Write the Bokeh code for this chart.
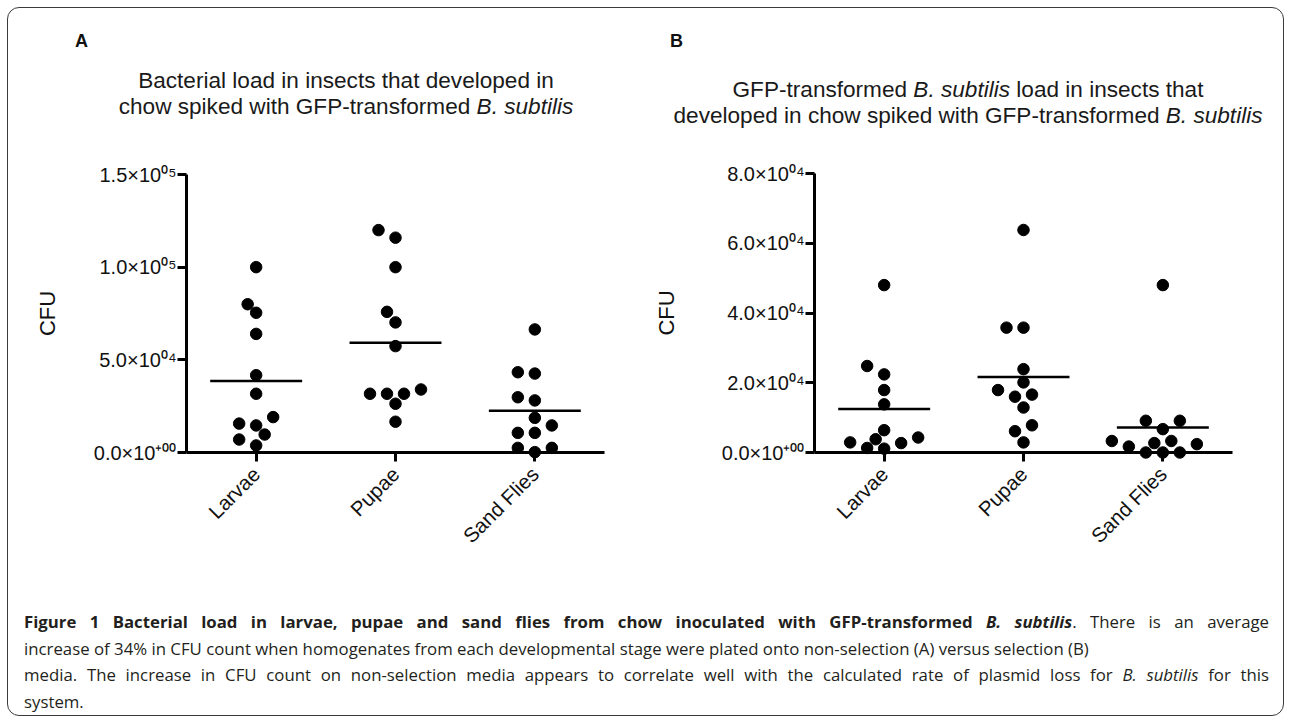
import math
import numpy as np
from bokeh.plotting import figure
from bokeh.models import Range1d, FixedTicker, Label, Div
from bokeh.layouts import column, row
from bokeh.embed import file_html
from bokeh.resources import INLINE

# ---------------- data ----------------
stages = ["Larvae", "Pupae", "Sand Flies"]

# Panel A: bacterial load (CFU), non-selection media
larvae_a = [100000, 80000, 75400, 64000, 41700, 31700, 19100, 15600, 14600, 9700, 7000, 3800]
pupae_a = [120000, 115900, 100000, 75900, 70200, 57400, 34000, 31700, 31700, 31700, 26300, 16600]
sandflies_a = [66400, 43300, 42600, 29800, 28100, 18700, 14600, 10600, 10600, 2500, 2500, 200]

# Panel B: GFP-transformed B. subtilis load (CFU), selection media
larvae_b = [48000, 24800, 22400, 17900, 13800, 6400, 4300, 3800, 2900, 2700, 1300, 1100]
pupae_b = [63800, 35800, 35800, 23900, 20100, 17900, 16600, 16000, 12900, 7800, 6100, 2900]
sandflies_b = [48000, 9100, 9100, 6700, 3300, 3300, 2700, 2400, 1700, 0, 0, 0]

yticks_a = [0, 50000, 100000, 150000]
ytick_labels_a = ["0.0\u00d710\u207a\u2070\u2070", "5.0\u00d710\u2070\u2074",
                  "1.0\u00d710\u2070\u2075", "1.5\u00d710\u2070\u2075"]
yticks_b = [0, 20000, 40000, 60000, 80000]
ytick_labels_b = ["0.0\u00d710\u207a\u2070\u2070", "2.0\u00d710\u2070\u2074",
                  "4.0\u00d710\u2070\u2074", "6.0\u00d710\u2070\u2074",
                  "8.0\u00d710\u2070\u2074"]

FONT = "Liberation Sans"


def swarm_offsets(vals, ymax, frame_h, unit_px, d=12.0, step=8.5):
    """Simple beeswarm: returns horizontal offsets (data units) so dots don't overlap."""
    vals = np.asarray(vals, dtype=float)
    order = np.argsort(vals, kind="stable")
    placed = []
    offs = np.zeros(len(vals))
    for i in order:
        y = vals[i] / ymax * frame_h
        k = 0
        while True:
            cands = [0.0] if k == 0 else [-k * step, k * step]
            hit = None
            for dx in cands:
                if all((dx - px) ** 2 + (y - py) ** 2 >= d * d for px, py in placed):
                    hit = dx
                    break
            if hit is not None:
                offs[i] = hit
                placed.append((hit, y))
                break
            k += 1
    return offs / unit_px


def make_fig(groups, yticks, ylabels, fig_w, min_left, min_right, min_top, frame_h,
             fig_h, ylab_standoff, xlab_center_px):
    ymax = yticks[-1]
    frame_w = fig_w - min_left - min_right
    unit_px = frame_w / 3.0
    p = figure(width=fig_w, height=fig_h, x_range=Range1d(0, 3), y_range=Range1d(0, ymax),
               min_border_left=min_left, min_border_right=min_right,
               min_border_top=min_top, min_border_bottom=fig_h - min_top - frame_h,
               output_backend="svg", toolbar_location=None)
    p.outline_line_color = None
    p.grid.visible = False
    p.background_fill_color = "white"
    p.border_fill_color = "white"

    for gi, vals in enumerate(groups):
        cx = gi + 0.5
        offs = swarm_offsets(vals, ymax, frame_h, unit_px)
        xs = [cx + o for o in offs]
        p.scatter(xs, vals, size=11.5, color="black", level="overlay")
        m = float(np.mean(vals))
        p.segment(x0=[cx - 0.33], y0=[m], x1=[cx + 0.33], y1=[m],
                  line_width=2.5, color="black", level="overlay")

    p.xaxis.ticker = FixedTicker(ticks=[0.5, 1.5, 2.5])
    p.xaxis.major_label_overrides = {0.5: stages[0], 1.5: stages[1], 2.5: stages[2]}
    p.xaxis.major_label_orientation = math.pi / 4
    p.yaxis.ticker = FixedTicker(ticks=yticks)
    p.yaxis.major_label_overrides = {t: l for t, l in zip(yticks, ylabels)}

    for ax in (p.xaxis[0], p.yaxis[0]):
        ax.axis_line_width = 3
        ax.axis_line_color = "black"
        ax.major_tick_line_width = 3
        ax.major_tick_line_color = "black"
        ax.major_tick_out = 9
        ax.major_tick_in = 0
        ax.minor_tick_line_color = None
        ax.major_label_text_font = FONT
        ax.major_label_text_color = "#111111"
    p.yaxis.major_label_text_font_size = "20px"
    p.xaxis.major_label_text_font_size = "20.5px"
    p.yaxis.major_label_standoff = 1
    p.xaxis.major_label_standoff = 9

    p.yaxis.axis_label = "CFU"
    p.yaxis.axis_label_text_font = FONT
    p.yaxis.axis_label_text_font_size = "22px"
    p.yaxis.axis_label_text_font_style = "normal"
    p.yaxis.axis_label_text_color = "#111111"
    p.yaxis.axis_label_standoff = ylab_standoff

    # x-axis title, centred on the whole panel (not only on the frame)
    lx = (xlab_center_px - min_left) / unit_px
    ly = -124.0 / frame_h * ymax
    p.add_layout(Label(x=lx, y=ly, text="Developmental Stage", text_align="center",
                       text_baseline="middle", text_font=FONT,
                       text_font_size="23px", text_color="#111111"))
    return p


ORG = 8.5          # page position of the content box (margin + border)
HEADER_H = 130
FIG_H = 458
CAP_H = 119

fig_a = make_fig([larvae_a, pupae_a, sandflies_a], yticks_a, ytick_labels_a,
                 fig_w=628, min_left=178, min_right=32, min_top=36, frame_h=278,
                 fig_h=FIG_H, ylab_standoff=31, xlab_center_px=360 - ORG)
fig_b = make_fig([larvae_b, pupae_b, sandflies_b], yticks_b, ytick_labels_b,
                 fig_w=646, min_left=178, min_right=50, min_top=35, frame_h=279,
                 fig_h=FIG_H, ylab_standoff=40, xlab_center_px=987 - (ORG + 628))

title_css = ("position:absolute;font-family:'Liberation Sans';font-size:22.6px;"
             "line-height:26px;color:#1a1a1a;text-align:center;white-space:nowrap;")
letter_css = ("position:absolute;font-family:'Liberation Sans';font-size:18px;"
              "font-weight:bold;line-height:18px;color:#111;")

head_a = Div(width=628, height=HEADER_H, margin=0, text=(
    "<div style='position:relative;width:628px;height:130px;'>"
    f"<div style=\"{letter_css}left:67px;top:24px;\">A</div>"
    f"<div style=\"{title_css}left:48px;top:60px;width:580px;\">"
    "Bacterial load in insects that developed in<br>"
    "chow spiked with GFP-transformed <i>B. subtilis</i></div>"
    "</div>"))
head_b = Div(width=646, height=HEADER_H, margin=0, text=(
    "<div style='position:relative;width:646px;height:130px;'>"
    f"<div style=\"{letter_css}left:34px;top:24px;\">B</div>"
    f"<div style=\"{title_css}left:22px;top:69px;width:620px;\">"
    "GFP-transformed <i>B. subtilis</i> load in insects that<br>"
    "developed in chow spiked with GFP-transformed <i>B. subtilis</i></div>"
    "</div>"))

cap_css = ("font-family:'Open Sans';font-size:16.8px;line-height:26.5px;color:#231f20;"
           "padding:13px 13px 0 16px;width:1274px;box-sizing:border-box;")
just = "text-align:justify;text-align-last:justify;"
caption = Div(width=1274, height=CAP_H, margin=0, styles={"overflow": "hidden"}, text=(
    f"<div style=\"{cap_css}\">"
    f"<div style=\"{just}\"><b>Figure 1 Bacterial load in larvae, pupae and sand flies from chow "
    "inoculated with GFP-transformed <i>B. subtilis</i></b>. There is an average</div>"
    "<div style='white-space:nowrap;'>increase of 34% in CFU count when homogenates from each "
    "developmental stage were plated onto non-selection (A) versus selection (B)</div>"
    f"<div style=\"{just}\">media. The increase in CFU count on non-selection media appears to "
    "correlate well with the calculated rate of plasmid loss for <i>B. subtilis</i> for this</div>"
    "<div>system.</div>"
    "</div>"))

layout = column(
    row(column(head_a, fig_a), column(head_b, fig_b)),
    caption,
    width=1277, margin=(7, 0, 0, 7),
    styles={"border": "1.5px solid #3a3a3a", "border-radius": "12px",
            "background": "white", "box-sizing": "border-box"},
)

open("out.html", "w").write(file_html(layout, INLINE, title="Figure 1"))
